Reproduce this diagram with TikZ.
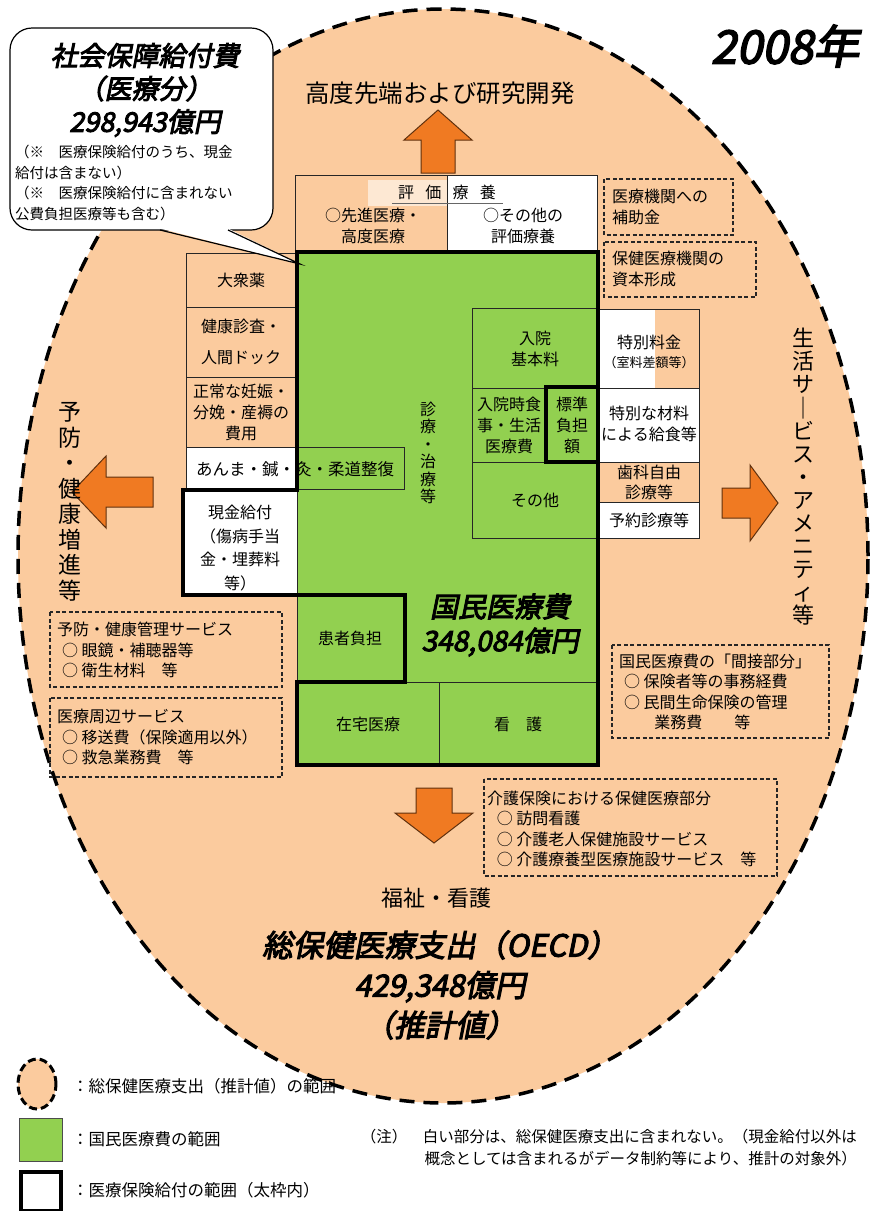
\documentclass[tikz,border=0pt]{standalone}
\usepackage{fontspec}
\setmainfont{Noto Sans CJK JP}
\newfontfamily\bi{Noto Sans CJK JP}[FakeSlant=0.2,FakeBold=3.5]
\definecolor{peach}{RGB}{251,203,158}
\definecolor{lgreen}{RGB}{146,208,80}
\definecolor{arrowc}{RGB}{240,122,34}
\tikzset{
 bt/.style={font=\fontsize{16}{21}\selectfont, align=center, inner sep=0pt},
 dt/.style={font=\fontsize{16}{20.5}\selectfont, align=left, anchor=west, inner sep=0pt},
 thinb/.style={draw=black!85, line width=1pt},
 thickb/.style={draw=black, line width=4.5pt, line join=miter},
 dashb/.style={draw=black!85, line width=1.3pt, dash pattern=on 4pt off 2.5pt},
 arr/.style={fill=arrowc, draw=black!60!arrowc, line width=1pt, line join=miter},
 big/.style={font=\bi\fontsize{27}{33}\selectfont, align=center, inner sep=0pt},
 vt/.style={align=center, inner sep=0pt},
}
\begin{document}
\begin{tikzpicture}[x=1pt,y=-1pt]
\useasboundingbox (0,0) rectangle (872,1211);
\fill[white] (0,0) rectangle (872,1211);
% big ellipse
\draw[fill=peach, line width=3.5pt, dash pattern=on 15pt off 9pt] (443,556) ellipse [x radius=425pt, y radius=547pt];
% title
\node[font=\bi\fontsize{46}{50}\selectfont, inner sep=0] (year) at (785,46) {2008年};
% top arrow and label
\draw[arr] (421,173) -- (421,140) -- (404,140) -- (438,110) -- (472,140) -- (455,140) -- (455,173) -- cycle;
\node[font=\fontsize{24.5}{28}\selectfont, inner sep=0] (kodo) at (440,93) {高度先端および研究開発};
% 評価療養
\fill[peach] (295,175) rectangle (447,250);
\fill[white] (447,175) rectangle (597,250);
\fill[peach!45] (368,180) rectangle (447,206);
\draw[thinb] (295,175) rectangle (597,250);
\draw[thinb] (447,175) -- (447,250);
\node[bt] (hyoka) at (447,192) {評\hspace{0.7em}価\hspace{0.7em}療\hspace{0.7em}養};
\draw[line width=0.8pt, black!60] (392,203) -- (503,203);
\node[bt] (senshin) at (373,226) {○先進医療・\\高度医療};
\node[bt] (sonota1) at (523,226) {○その他の\\評価療養};
% green main
\fill[lgreen] (297,252) rectangle (598,765);
% left column
\fill[peach] (186,253) rectangle (297,447);
\fill[white] (186,447) rectangle (297,489);
\fill[white] (183,490) rectangle (297,595);
\draw[thinb] (186,253) rectangle (297,447);
\draw[thinb] (186,307) -- (297,307);
\draw[thinb] (186,377) -- (297,377);
\draw[thinb] (186,447) rectangle (404,489);
\draw[thinb] (183,490) rectangle (297,595);
\node[bt] (taishu) at (241,280) {大衆薬};
\node[bt] (kenko1) at (241,326) {健康診査・};
\node[bt] (kenko2) at (241,358) {人間ドック};
\node[bt] (seijo) at (241,412) {正常な妊娠・\\分娩・産褥の\\費用};
\node[bt, font=\fontsize{16.5}{21}\selectfont] (anma) at (295,469) {あんま・鍼・灸・柔道整復};
\node[bt, font=\fontsize{16}{23.5}\selectfont] (genkin) at (240,548) {現金給付\\（傷病手当\\金・埋葬料\\等）};
% right column
\fill[white] (598,309) rectangle (655,388);
\fill[peach] (655,309) rectangle (699,388);
\fill[white] (598,388) rectangle (699,462);
\fill[peach] (598,462) rectangle (699,502);
\fill[white] (598,502) rectangle (699,538);
\draw[thinb] (598,309) rectangle (699,538);
\draw[thinb] (598,388) -- (699,388);
\draw[thinb] (598,462) -- (699,462);
\draw[thinb] (598,502) -- (699,502);
\node[bt] (tokubetsu) at (649,342) {特別料金};
\node[bt, font=\fontsize{13}{15}\selectfont] (shitsuryo) at (649,363) {（室料差額等）};
\node[bt] (zairyo) at (649,424) {特別な材料\\による給食等};
\node[bt, font=\fontsize{16}{20}\selectfont] (shika) at (649,482) {歯科自由\\診療等};
\node[bt] (yoyaku) at (649,520) {予約診療等};
% green inner boxes
\draw[thinb] (472,308) rectangle (598,388);
\draw[thinb] (472,388) rectangle (546,462);
\draw[thinb] (472,462) rectangle (598,538);
\draw[thinb] (297,595) rectangle (405,682);
\draw[thinb] (297,682) rectangle (439,765);
\draw[thinb] (439,682) rectangle (598,765);
\node[bt] (nyuin) at (535,349) {入院\\基本料};
\node[bt] (shokuji) at (509,425) {入院時食\\事・生活\\医療費};
\node[bt] (hyojun) at (572,425) {標準\\負担\\額};
\node[bt] (sonota2) at (535,500) {その他};
\node[bt] (kanja) at (350,638) {患者負担};
\node[bt] (zaitaku) at (368,724) {在宅医療};
\node[bt] (kango) at (518,724) {看\hspace{1em}護};
\node[vt, font=\fontsize{16}{17.4}\selectfont] (shinryo) at (428,453) {診\\療\\・\\治\\療\\等};
\node[big, font=\bi\fontsize{28}{34}\selectfont] (kokumin) at (500,625) {国民医療費\\348,084億円};
% thick outline
\draw[thickb] (297,252) -- (598,252) -- (598,765) -- (297,765) -- (297,682) -- (405,682) -- (405,595) -- (183,595) -- (183,490) -- (297,490) -- cycle;
\draw[thickb] (598,387) -- (546,387) -- (546,462) -- (598,462);
% dashed boxes upper right
\draw[dashb] (604,179) rectangle (733,235);
\node[dt] (hojo) at (612,207) {医療機関への\\補助金};
\draw[dashb] (604,242) rectangle (756,297);
\node[dt] (shihon) at (612,269) {保健医療機関の\\資本形成};
% left/right arrows and labels
\draw[arr] (153,477) -- (106,477) -- (106,456) -- (72,492) -- (106,528) -- (106,507) -- (153,507) -- cycle;
\node[vt, font=\fontsize{23}{25.5}\selectfont] (yobo) at (70,502) {予\\防\\・\\健\\康\\増\\進\\等};
\draw[arr] (722,488) -- (750,488) -- (750,465) -- (778,503) -- (750,541) -- (750,518) -- (722,518) -- cycle;
\node[vt, font=\fontsize{22}{23.1}\selectfont] (seikatsu) at (803,477) {生\\活\\サ\\｜\\ビ\\ス\\・\\ア\\メ\\ニ\\テ\\ィ\\等};
% lower left dashed boxes
\draw[dashb] (50,612) rectangle (282,687);
\node[dt] (yobokanri) at (57,650) {予防・健康管理サービス\\\hspace{0.3em}○ 眼鏡・補聴器等\\\hspace{0.3em}○ 衛生材料　等};
\draw[dashb] (50,698) rectangle (282,777);
\node[dt] (shuhen) at (57,737) {医療周辺サービス\\\hspace{0.3em}○ 移送費（保険適用以外）\\\hspace{0.3em}○ 救急業務費　等};
% right lower dashed box
\draw[dashb] (612,645) rectangle (829,738);
\node[dt] (kansetsu) at (619,692) {国民医療費の「間接部分」\\\hspace{0.3em}○ 保険者等の事務経費\\\hspace{0.3em}○ 民間生命保険の管理\\\hspace{2.2em}業務費　　等};
% down arrow
\draw[arr] (416,788) -- (452,788) -- (452,813) -- (473,813) -- (434,843) -- (395,813) -- (416,813) -- cycle;
\draw[dashb] (484,779) rectangle (777,876);
\node[dt] (kaigo) at (487,829) {介護保険における保健医療部分\\\hspace{0.6em}○ 訪問看護\\\hspace{0.6em}○ 介護老人保健施設サービス\\\hspace{0.6em}○ 介護療養型医療施設サービス　等};
\node[font=\fontsize{22}{26}\selectfont, inner sep=0] (fukushi) at (436,898) {福祉・看護};
\node[big, font=\bi\fontsize{30.5}{40}\selectfont] (oecd) at (440,985) {総保健医療支出（OECD）\\429,348億円\\（推計値）};
% callout
\draw[fill=white, line width=1.2pt, rounded corners=22pt] (10,28) rectangle (273,230);
\fill[white] (160,228.5) -- (300,264) -- (228,228.5) -- cycle;
\draw[line width=1.2pt] (160,230) -- (300,264) -- (228,230);
\node[big] (shakai) at (145,90) {社会保障給付費\\（医療分）\\298,943億円};
\node[dt, font=\fontsize{14.5}{20.5}\selectfont] (chu) at (15,183) {（※　医療保険給付のうち、現金\\給付は含まない）\\（※　医療保険給付に含まれない\\公費負担医療等も含む）};
% legend
\draw[fill=peach, line width=3pt, dash pattern=on 8pt off 4pt] (37,1084) ellipse [x radius=19pt, y radius=25pt];
\node[dt, font=\fontsize{16.5}{18}\selectfont] (leg1) at (72,1086) {：総保健医療支出（推計値）の範囲};
\draw[fill=lgreen, draw=black!70, line width=1pt] (19,1118) rectangle (62,1161);
\node[dt, font=\fontsize{16.5}{18}\selectfont] (leg2) at (72,1139) {：国民医療費の範囲};
\draw[fill=white, line width=4.5pt] (21,1172) rectangle (61,1211);
\node[dt, font=\fontsize{16.5}{18}\selectfont] (leg3) at (72,1190) {：医療保険給付の範囲（太枠内）};
\node[font=\fontsize{15.5}{22}\selectfont, align=right, anchor=east, inner sep=0] (note) at (857,1148) {（注）　白い部分は、総保健医療支出に含まれない。（現金給付以外は\\概念としては含まれるがデータ制約等により、推計の対象外）};
\end{tikzpicture}
\end{document}
